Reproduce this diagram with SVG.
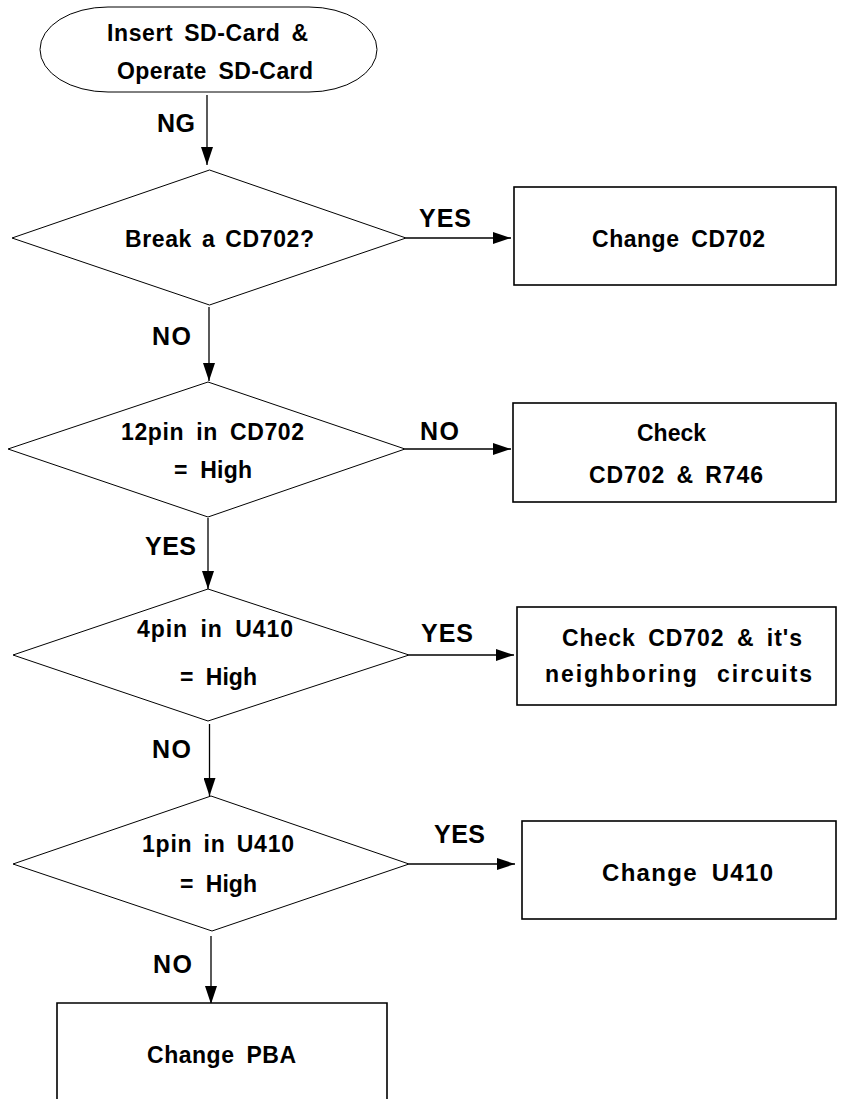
<svg xmlns="http://www.w3.org/2000/svg" width="843" height="1099" viewBox="0 0 843 1099">
<defs>
<style>
.t{font-family:"Liberation Sans",Arial,sans-serif;font-weight:bold;fill:#000}
.dec{fill:#fff;stroke:#000;stroke-width:1}
.box{fill:#fff;stroke:#000;stroke-width:1.6}
.ln{stroke:#000;stroke-width:1.3;fill:none}
</style>
<marker id="ah" viewBox="0 0 18 12" refX="18" refY="6" markerWidth="18" markerHeight="12" markerUnits="userSpaceOnUse" orient="auto">
<path d="M0,0 L18,6 L0,12 Z" fill="#000"/>
</marker>
</defs>
<rect width="843" height="1099" fill="#fff"/>
<g id="connectors">
<line class="ln" x1="207" y1="95" x2="207" y2="165" stroke="#444" marker-end="url(#ah)"/>
<line class="ln" x1="406" y1="238" x2="511" y2="238" marker-end="url(#ah)"/>
<line class="ln" x1="209" y1="307" x2="209" y2="381" stroke="#444" marker-end="url(#ah)"/>
<line class="ln" x1="405" y1="449" x2="511" y2="449" marker-end="url(#ah)"/>
<line class="ln" x1="208" y1="518" x2="208" y2="589" stroke="#444" marker-end="url(#ah)"/>
<line class="ln" x1="409" y1="655" x2="514" y2="655" marker-end="url(#ah)"/>
<line class="ln" x1="209.5" y1="724" x2="209.5" y2="796" stroke="#444" marker-end="url(#ah)"/>
<line class="ln" x1="409" y1="864" x2="515" y2="864" marker-end="url(#ah)"/>
<line class="ln" x1="211" y1="936" x2="211" y2="1004" stroke="#444" marker-end="url(#ah)"/>
<text class="t" x="157" y="132" font-size="25" textLength="38">NG</text>
<text class="t" x="419" y="227" font-size="25" textLength="52">YES</text>
<text class="t" x="152" y="345" font-size="25" textLength="39">NO</text>
<text class="t" x="420" y="440" font-size="25" textLength="39">NO</text>
<text class="t" x="145" y="555" font-size="25" textLength="51">YES</text>
<text class="t" x="421" y="642" font-size="25" textLength="52">YES</text>
<text class="t" x="152" y="758" font-size="25" textLength="39">NO</text>
<text class="t" x="434" y="843" font-size="25" textLength="51">YES</text>
<text class="t" x="153" y="973" font-size="25" textLength="39">NO</text>
</g>
<g id="start">
<rect x="40" y="7" width="337" height="85" rx="68" ry="42.5" fill="#fff" stroke="#000" stroke-width="1"/>
<text class="t" x="107" y="41" font-size="23" word-spacing="4" textLength="201">Insert SD-Card &amp;</text>
<text class="t" x="117" y="79" font-size="23" word-spacing="5" textLength="196">Operate SD-Card</text>
</g>
<g id="d1">
<polygon class="dec" points="209.5,170 406,238 209.5,305 12,238"/>
<text class="t" x="125" y="247" font-size="23" word-spacing="3" textLength="189">Break a CD702?</text>
</g>
<g id="b1">
<rect class="box" x="514" y="187" width="322" height="98"/>
<text class="t" x="592" y="247" font-size="23" word-spacing="5" textLength="173">Change CD702</text>
</g>
<g id="d2">
<polygon class="dec" points="208,382 405,449 208,517 8,449"/>
<text class="t" x="121" y="440" font-size="23" word-spacing="5" textLength="183">12pin in CD702</text>
<text class="t" x="174" y="478" font-size="23" word-spacing="6" textLength="78">= High</text>
</g>
<g id="b2">
<rect class="box" x="513" y="403" width="323" height="99"/>
<text class="t" x="637" y="441" font-size="23" textLength="69">Check</text>
<text class="t" x="589" y="483" font-size="23" word-spacing="4" textLength="174">CD702 &amp; R746</text>
</g>
<g id="d3">
<polygon class="dec" points="208,589 409,655 208,721 13,655"/>
<text class="t" x="137" y="637" font-size="23" word-spacing="5" textLength="156">4pin in U410</text>
<text class="t" x="180" y="685" font-size="23" word-spacing="6" textLength="77">= High</text>
</g>
<g id="b3">
<rect class="box" x="517" y="607" width="319" height="98"/>
<text class="t" x="562" y="646" font-size="23" word-spacing="5" textLength="240">Check CD702 &amp; it's</text>
<text class="t" x="545" y="682" font-size="23" word-spacing="10" textLength="267">neighboring circuits</text>
</g>
<g id="d4">
<polygon class="dec" points="211,796 409,864 212,931 13,864"/>
<text class="t" x="142" y="852" font-size="23" word-spacing="4" textLength="152">1pin in U410</text>
<text class="t" x="180" y="892" font-size="23" word-spacing="6" textLength="77">= High</text>
</g>
<g id="b4">
<rect class="box" x="522" y="821" width="314" height="98"/>
<text class="t" x="602" y="881" font-size="24" word-spacing="6" textLength="171">Change U410</text>
</g>
<g id="b5">
<path class="box" d="M57,1110 V1003 H387 V1110"/>
<text class="t" x="147" y="1063" font-size="23" word-spacing="5" textLength="149">Change PBA</text>
</g>
</svg>
